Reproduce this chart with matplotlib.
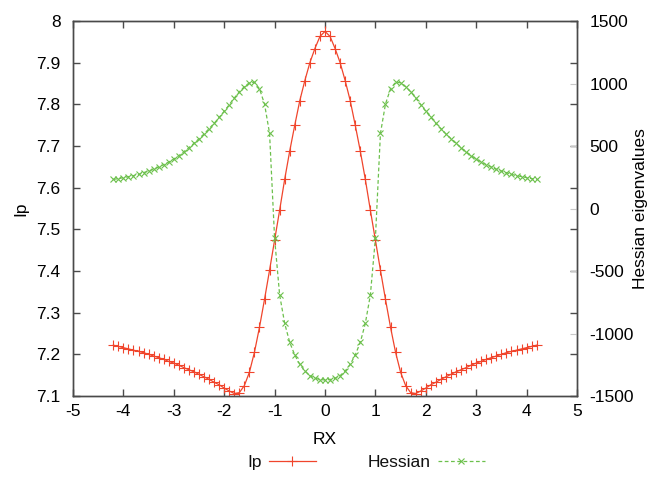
import matplotlib
matplotlib.use('Agg')
import matplotlib.pyplot as plt

# scan coordinate
rx = [-4.2, -4.1, -4.0, -3.9, -3.8, -3.7, -3.6, -3.5, -3.4, -3.3, -3.2, -3.1,
      -3.0, -2.9, -2.8, -2.7, -2.6, -2.5, -2.4, -2.3, -2.2, -2.1, -2.0, -1.9,
      -1.8, -1.7, -1.6, -1.5, -1.4, -1.3, -1.2, -1.1, -1.0, -0.9, -0.8, -0.7,
      -0.6, -0.5, -0.4, -0.3, -0.2, -0.1, 0.0, 0.1, 0.2, 0.3, 0.4, 0.5, 0.6,
      0.7, 0.8, 0.9, 1.0, 1.1, 1.2, 1.3, 1.4, 1.5, 1.6, 1.7, 1.8, 1.9, 2.0,
      2.1, 2.2, 2.3, 2.4, 2.5, 2.6, 2.7, 2.8, 2.9, 3.0, 3.1, 3.2, 3.3, 3.4,
      3.5, 3.6, 3.7, 3.8, 3.9, 4.0, 4.1, 4.2]

ip = [7.222, 7.219, 7.216, 7.213, 7.210, 7.207, 7.204, 7.200, 7.196, 7.192,
      7.188, 7.183, 7.179, 7.174, 7.168, 7.163, 7.158, 7.152, 7.146, 7.140,
      7.133, 7.127, 7.119, 7.112, 7.106, 7.108, 7.125, 7.157, 7.205, 7.265,
      7.332, 7.402, 7.474, 7.546, 7.620, 7.688, 7.750, 7.809, 7.857, 7.900,
      7.934, 7.963, 7.975, 7.963, 7.934, 7.900, 7.857, 7.809, 7.750, 7.688,
      7.620, 7.546, 7.474, 7.402, 7.332, 7.265, 7.205, 7.157, 7.125, 7.108,
      7.106, 7.112, 7.119, 7.127, 7.133, 7.140, 7.146, 7.152, 7.158, 7.163,
      7.168, 7.174, 7.179, 7.183, 7.188, 7.192, 7.196, 7.200, 7.204, 7.207,
      7.210, 7.213, 7.216, 7.219, 7.222]

hessian = [233, 239, 247, 255, 263, 273, 287, 300, 313, 332, 351, 372, 396,
           423, 455, 487, 521, 559, 596, 639, 681, 729, 777, 831, 884, 933,
           975, 1006, 1010, 958, 836, 601, -239, -692, -919, -1071, -1172,
           -1247, -1300, -1337, -1358, -1368, -1372, -1368, -1358, -1337,
           -1300, -1247, -1172, -1071, -919, -692, -239, 601, 836, 958, 1010,
           1006, 975, 933, 884, 831, 777, 729, 681, 639, 596, 559, 521, 487,
           455, 423, 396, 372, 351, 332, 313, 300, 287, 273, 263, 255, 247,
           239, 233]

x_ticks = [-5, -4, -3, -2, -1, 0, 1, 2, 3, 4, 5]
ip_ticks = [7.1, 7.2, 7.3, 7.4, 7.5, 7.6, 7.7, 7.8, 7.9, 8]
ip_labels = ['7.1', '7.2', '7.3', '7.4', '7.5', '7.6', '7.7', '7.8', '7.9', '8']
h_ticks = [-1500, -1000, -500, 0, 500, 1000, 1500]

red = '#f0452c'
green = '#6cc04c'
frame = '#4a4a4a'

plt.rcParams['font.family'] = ['Liberation Sans', 'DejaVu Sans']
plt.rcParams['font.size'] = 12.5
plt.rcParams['text.color'] = '#111111'

fig = plt.figure(figsize=(6.51, 4.78), dpi=100)
ax = fig.add_axes([73 / 651, 1 - 396 / 478, 504 / 651, 375 / 478])
ax2 = ax.twinx()

l1, = ax.plot(rx, ip, color=red, lw=0.9, marker='+', ms=7, mew=0.8, label='Ip')
l2, = ax2.plot(rx, hessian, color=green, lw=0.9, ls=(0, (3, 2)), marker='x',
               ms=5, mew=0.8, label='Hessian')

ax.set_xlim(-5, 5)
ax.set_ylim(7.1, 8)
ax2.set_ylim(-1500, 1500)
ax.set_xticks(x_ticks)
ax.set_xticklabels([str(v) for v in x_ticks])
ax.set_yticks(ip_ticks)
ax.set_yticklabels(ip_labels)
ax2.set_yticks(h_ticks)
ax2.set_yticklabels([str(v) for v in h_ticks])

ax.tick_params(axis='x', direction='in', top=True, length=5, width=1,
               color=frame, pad=6)
ax.tick_params(axis='y', direction='in', right=True, length=5, width=1,
               color=frame, pad=9)
ax2.tick_params(axis='y', direction='in', length=5, width=0.8,
                color='#c8c8c8', pad=9)

for a in (ax, ax2):
    for s in a.spines.values():
        s.set_color(frame)
        s.set_linewidth(1.0)

ax.set_xlabel('RX')
ax.xaxis.set_label_coords(0.5, -0.096)
ax.set_ylabel('Ip')
ax.yaxis.set_label_coords(-0.089, 0.5)
ax2.set_ylabel('Hessian eigenvalues')
ax2.yaxis.set_label_coords(1.112, 0.5)

fig.legend([l1, l2], ['Ip', 'Hessian'], loc='center', ncol=2, frameon=False,
           markerfirst=False, numpoints=1, handlelength=2.7,
           columnspacing=3.0, handletextpad=0.4,
           bbox_to_anchor=(366 / 651, 1 - 462 / 478))

fig.savefig('out.png', dpi=100)
